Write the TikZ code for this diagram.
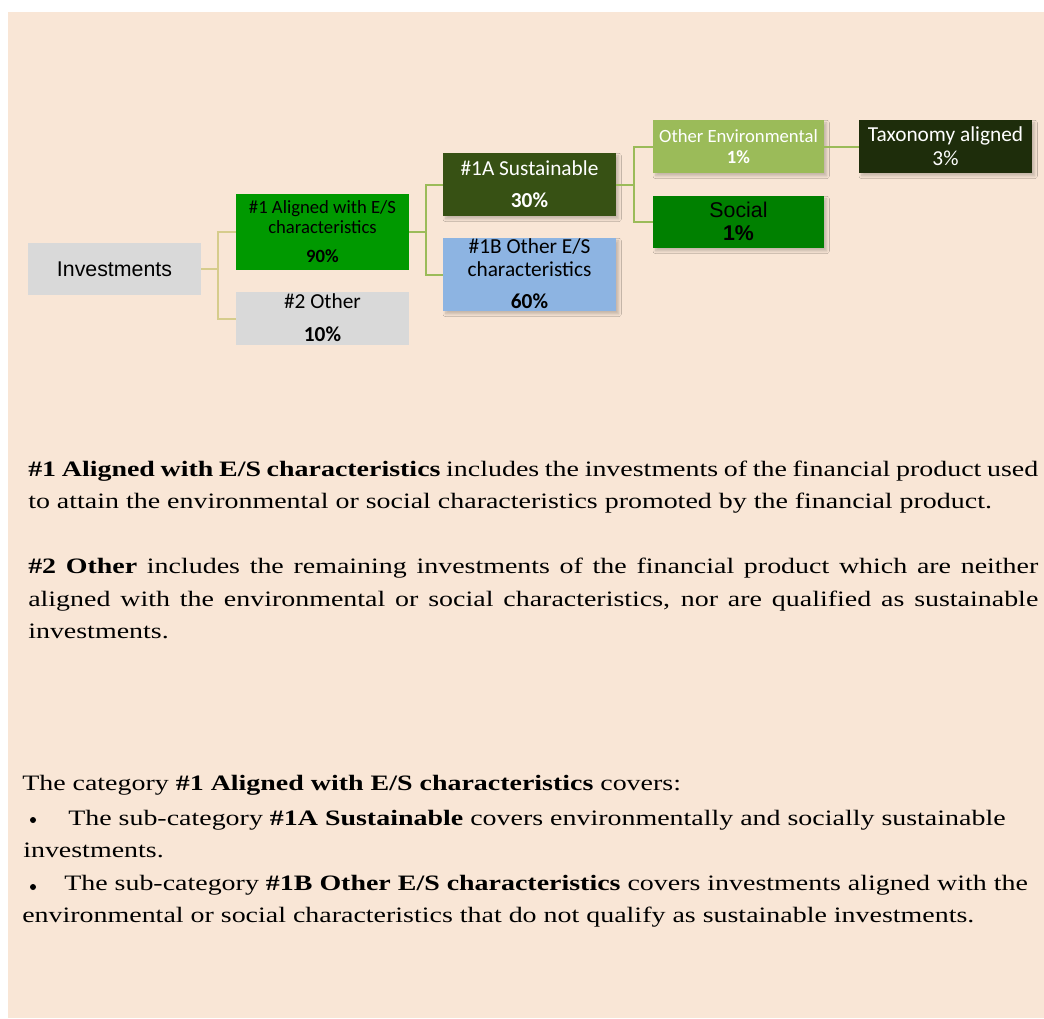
\documentclass[tikz,border=0pt]{standalone}
\usepackage{fontspec}
\setmainfont{Liberation Serif}
\newfontfamily\bodyfont[FakeStretch=1.27]{Liberation Serif}
\newfontfamily\calib{Carlito}
\newfontfamily\arialf{Liberation Sans}
\usetikzlibrary{shadows.blur}
\definecolor{peach}{HTML}{F9E6D6}
\definecolor{boxgray}{HTML}{D9D9D9}
\definecolor{greenA}{HTML}{009900}
\definecolor{oliveS}{HTML}{375114}
\definecolor{blueB}{HTML}{8DB4E2}
\definecolor{envgreen}{HTML}{9BBB59}
\definecolor{socgreen}{HTML}{008000}
\definecolor{taxgreen}{HTML}{1E2D0B}
\definecolor{linesand}{HTML}{D6CC8C}
\definecolor{linegreen}{HTML}{9BBB59}
\tikzset{
  box/.style={draw=none, inner sep=0pt, rectangle},
  sh/.style={blur shadow={shadow xshift=2pt, shadow yshift=-2.2pt, shadow blur radius=2pt, shadow blur steps=8, shadow opacity=22}},
  lab/.style={inner sep=0pt, anchor=base},
  big/.style={font=\calib\fontsize{16}{19}\selectfont},
  small/.style={font=\calib\fontsize{14}{17}\selectfont},
  bigb/.style={font=\calib\bfseries\fontsize{16}{19}\selectfont},
  smallb/.style={font=\calib\bfseries\fontsize{14}{17}\selectfont},
  txt/.style={inner sep=0pt, anchor=base west, font=\bodyfont\fontsize{16.5}{20}\selectfont},
  conS/.style={draw=linesand, line width=1.5pt},
  conG/.style={draw=linegreen, line width=1.5pt},
  bul/.style={circle, fill=black, inner sep=0pt, minimum size=4.5pt}
}
\begin{document}
\begin{tikzpicture}[x=0.75pt, y=-0.75pt]
\fill[white] (0,0) rectangle (1044,1018);
\useasboundingbox (0,0) rectangle (1044,1018);
\fill[peach] (8,12) rectangle (1044,1018);

% boxes
\node[box, fill=boxgray, minimum width=129.75pt, minimum height=39pt] (inv) at (114.5,269) {};
\node[box, fill=greenA, minimum width=129.75pt, minimum height=57pt] (a1) at (322.5,232) {};
\node[box, fill=boxgray, minimum width=129.75pt, minimum height=39.75pt] (o2) at (322.5,318.5) {};
\node[box, sh, fill=oliveS, minimum width=129.75pt, minimum height=47.25pt] (s1a) at (529.5,184.5) {};
\node[box, sh, fill=blueB, minimum width=129.75pt, minimum height=54.75pt] (b1b) at (529.5,274.5) {};
\node[box, sh, fill=envgreen, minimum width=128.25pt, minimum height=39.75pt] (env) at (738.5,146.5) {};
\node[box, sh, fill=socgreen, minimum width=128.25pt, minimum height=39pt] (soc) at (738.5,222) {};
\node[box, sh, fill=taxgreen, minimum width=129.75pt, minimum height=39.75pt] (tax) at (945.5,146.5) {};

% connectors
\coordinate (j1) at (218,269);
\coordinate (j2) at (426,232);
\coordinate (j3) at (634,184.5);
\draw[conS] (inv.east) -- (j1) |- (a1.west);
\draw[conS] (j1) |- (o2.west);
\draw[conG] (a1.east) -- (j2) |- (s1a.west);
\draw[conG] (j2) |- (b1b.west);
\draw[conG] (s1a.east) -- (j3) |- (env.west);
\draw[conG] (j3) |- (soc.west);
\draw[conG] (env.east) -- (tax.west);

% box texts
\node[lab, font=\arialf\fontsize{16}{19}\selectfont] (tinv) at (114.5,276) {Investments};
\node[lab, small] (ta1a) at (322.5,213) {\#1 Aligned with E/S};
\node[lab, small] (ta1b) at (322.5,233) {characteristics};
\node[lab, smallb] (ta1c) at (322.5,262) {90\%};
\node[lab, big] (to2a) at (322.5,308) {\#2 Other};
\node[lab, bigb] (to2b) at (322.5,341) {10\%};
\node[lab, big, text=white] (ts1a) at (529.5,175) {\#1A Sustainable};
\node[lab, bigb, text=white] (ts1b) at (529.5,207) {30\%};
\node[lab, big] (tb1a) at (529.5,253) {\#1B Other E/S};
\node[lab, big] (tb1b) at (529.5,276) {characteristics};
\node[lab, bigb] (tb1c) at (529.5,308) {60\%};
\node[lab, small, text=white] (tenva) at (738.5,142) {Other Environmental};
\node[lab, smallb, text=white] (tenvb) at (738.5,163) {1\%};
\node[lab, font=\arialf\fontsize{16}{19}\selectfont] (tsoca) at (738.5,217) {Social};
\node[lab, font=\arialf\bfseries\fontsize{16}{19}\selectfont] (tsocb) at (738.5,240) {1\%};
\node[lab, big, text=white] (ttaxa) at (945.5,141) {Taxonomy aligned};
\node[lab, big, text=white] (ttaxb) at (945.5,165) {3\%};

% paragraphs
\node[txt] (p1a) at (28,476) {\makebox[757.5pt][s]{\bfseries\#1 Aligned with E/S characteristics\mdseries{} includes the investments of the financial product used}};
\node[txt] (p1b) at (28,508) {to attain the environmental or social characteristics promoted by the financial product.};
\node[txt] (p2a) at (28,573) {\makebox[757.5pt][s]{\bfseries\#2 Other\mdseries{} includes the remaining investments of the financial product which are neither}};
\node[txt] (p2b) at (28,606) {\makebox[757.5pt][s]{aligned with the environmental or social characteristics, nor are qualified as sustainable}};
\node[txt] (p2c) at (28,638) {investments.};

\node[txt] (c1) at (22,790) {The category \textbf{\#1 Aligned with E/S characteristics} covers:};
\node[bul] (bul1) at (33,820) {};
\node[txt] (c2) at (68,825) {The sub-category \textbf{\#1A Sustainable} covers environmentally and socially sustainable};
\node[txt] (c3) at (23,857) {investments.};
\node[bul] (bul2) at (33,887) {};
\node[txt] (c4) at (64,890) {The sub-category \textbf{\#1B Other E/S characteristics} covers investments aligned with the};
\node[txt] (c5) at (22,922) {environmental or social characteristics that do not qualify as sustainable investments.};
\end{tikzpicture}
\end{document}
